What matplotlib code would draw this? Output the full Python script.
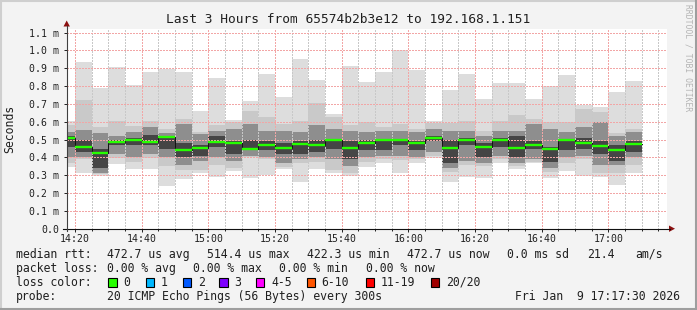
import numpy as np
import pandas as pd
import matplotlib
matplotlib.use('Agg')
import matplotlib.pyplot as plt
import matplotlib.dates as mdates
from matplotlib.patches import Rectangle, Polygon

plt.rcParams['font.family'] = 'DejaVu Sans Mono'

# one round of 20 pings every 5 minutes, values in ms (round ends at stamp + 5 min)
rounds = pd.date_range('2026-01-09 14:15', periods=35, freq='5min')

ping_max = [0.607, 0.933, 0.790, 0.910, 0.809, 0.882, 0.897, 0.882, 0.663, 0.848,
            0.610, 0.719, 0.869, 0.740, 0.953, 0.835, 0.644, 0.914, 0.824, 0.880,
            1.004, 0.891, 0.603, 0.779, 0.869, 0.728, 0.820, 0.820, 0.728, 0.801,
            0.863, 0.693, 0.682, 0.768, 0.830]
ping_hi2 = [0.580, 0.723, 0.573, 0.607, 0.577, 0.607, 0.560, 0.614, 0.545, 0.582,
            0.596, 0.663, 0.625, 0.588, 0.607, 0.704, 0.624, 0.582, 0.599, 0.573,
            0.588, 0.560, 0.592, 0.592, 0.607, 0.550, 0.607, 0.639, 0.614, 0.601,
            0.597, 0.670, 0.657, 0.536, 0.560]
ping_hi4 = [0.540, 0.554, 0.535, 0.520, 0.545, 0.570, 0.535, 0.590, 0.530, 0.550,
            0.560, 0.590, 0.550, 0.550, 0.540, 0.580, 0.560, 0.550, 0.540, 0.550,
            0.550, 0.540, 0.560, 0.550, 0.550, 0.520, 0.550, 0.550, 0.590, 0.560,
            0.540, 0.570, 0.600, 0.520, 0.540]
ping_hi5 = [0.520, 0.500, 0.450, 0.500, 0.510, 0.526, 0.520, 0.480, 0.470, 0.520,
            0.490, 0.500, 0.490, 0.480, 0.490, 0.500, 0.500, 0.490, 0.500, 0.500,
            0.500, 0.490, 0.520, 0.500, 0.510, 0.480, 0.510, 0.520, 0.490, 0.460,
            0.500, 0.510, 0.490, 0.470, 0.490]
median = [0.511, 0.461, 0.422, 0.487, 0.496, 0.489, 0.514, 0.444, 0.455, 0.489,
          0.483, 0.449, 0.472, 0.451, 0.478, 0.472, 0.496, 0.451, 0.483, 0.496,
          0.496, 0.483, 0.511, 0.455, 0.500, 0.461, 0.500, 0.455, 0.472, 0.449,
          0.496, 0.483, 0.464, 0.444, 0.473]
ping_lo5 = [0.460, 0.430, 0.340, 0.470, 0.470, 0.470, 0.450, 0.400, 0.410, 0.460,
            0.420, 0.440, 0.440, 0.420, 0.420, 0.430, 0.450, 0.390, 0.440, 0.440,
            0.470, 0.440, 0.490, 0.370, 0.470, 0.400, 0.460, 0.400, 0.450, 0.375,
            0.440, 0.450, 0.420, 0.380, 0.430]
ping_lo4 = [0.400, 0.400, 0.315, 0.420, 0.400, 0.420, 0.400, 0.360, 0.380, 0.400,
            0.380, 0.410, 0.400, 0.370, 0.390, 0.400, 0.390, 0.350, 0.400, 0.410,
            0.410, 0.400, 0.430, 0.340, 0.380, 0.370, 0.410, 0.370, 0.390, 0.340,
            0.400, 0.410, 0.360, 0.360, 0.400]
ping_lo2 = [0.370, 0.390, 0.305, 0.395, 0.376, 0.395, 0.350, 0.330, 0.330, 0.360,
            0.340, 0.400, 0.390, 0.345, 0.370, 0.375, 0.330, 0.310, 0.375, 0.390,
            0.385, 0.390, 0.410, 0.320, 0.360, 0.350, 0.390, 0.350, 0.375, 0.320,
            0.370, 0.390, 0.310, 0.310, 0.360]
ping_min = [0.345, 0.315, 0.298, 0.363, 0.337, 0.337, 0.242, 0.277, 0.315, 0.288,
            0.326, 0.287, 0.301, 0.337, 0.262, 0.333, 0.311, 0.298, 0.348, 0.367,
            0.315, 0.371, 0.399, 0.264, 0.292, 0.287, 0.371, 0.333, 0.371, 0.287,
            0.326, 0.298, 0.292, 0.247, 0.315]

y_ticks = [0.0, 0.1, 0.2, 0.3, 0.4, 0.5, 0.6, 0.7, 0.8, 0.9, 1.0, 1.1]
loss_labels = ['0', '1', '2', '3', '4-5', '6-10', '11-19', '20/20']
loss_colors = ['#26ff00', '#00b8ff', '#0059ff', '#7e00ff', '#ff00ff', '#ff5500', '#ff0000', '#a00000']

title = 'Last 3 Hours from 65574b2b3e12 to 192.168.1.151'
t_start = pd.Timestamp('2026-01-09 14:17:30')
t_end = pd.Timestamp('2026-01-09 17:17:30')

W, H = 697, 310
fig = plt.figure(figsize=(W / 100, H / 100), dpi=100, facecolor='#f3f3f3')

# graph canvas 600 x 200 px
ax = fig.add_axes([66.7 / W, (H - 228.7) / H, 600 / W, 200 / H])
ax.set_facecolor('white')

x = mdates.date2num(rounds)
w = 5 / 1440.0

smoke = [(ping_min, ping_max, '#dddddd'),
         (ping_lo2, ping_hi2, '#c9c9c9'),
         (ping_lo4, ping_hi4, '#8e8e8e'),
         (ping_lo5, ping_hi5, '#454545')]
for lo, hi, col in smoke:
    lo = np.array(lo)
    hi = np.array(hi)
    ax.bar(x, hi - lo, bottom=lo, width=w, align='edge', color=col, linewidth=0, zorder=1)

med = np.array(median)
ax.step(np.r_[x, x[-1] + w], np.r_[med, med[-1]], where='post', color='#101010', lw=0.7, zorder=3)
ax.hlines(med, x, x + w, color=loss_colors[0], lw=1.7, zorder=4)

ax.set_xlim(mdates.date2num(t_start), mdates.date2num(t_end))
ax.set_ylim(0, 1.1223)

ax.xaxis.set_major_locator(mdates.MinuteLocator(byminute=[0, 20, 40]))
ax.xaxis.set_minor_locator(mdates.MinuteLocator(byminute=range(0, 60, 5)))
ax.xaxis.set_major_formatter(mdates.DateFormatter('%H:%M'))
ax.set_yticks(y_ticks)
ax.set_yticklabels(['0.0' if v == 0 else '%.1f m' % v for v in y_ticks])

dots = (0, (1, 1))
ax.set_axisbelow(False)
ax.grid(which='minor', axis='x', color='#c8c8c8', ls=dots, lw=0.75, antialiased=False)
ax.grid(which='major', axis='x', color='#f2a6a6', ls=dots, lw=0.75, antialiased=False)
ax.grid(which='major', axis='y', color='#f2a6a6', ls=dots, lw=0.75, antialiased=False)

for s in ax.spines.values():
    s.set_visible(False)
ax.tick_params(axis='both', which='major', direction='out', length=2, width=0.7,
               color='#202020', labelsize=7.1, labelcolor='#202020')
ax.tick_params(axis='x', which='minor', direction='out', length=1.2, width=0.7, color='#202020')
ax.tick_params(axis='y', pad=3.4)
ax.tick_params(axis='x', pad=1.6)
ax.set_ylabel('Seconds', fontsize=8.3, color='#202020')
ax.yaxis.set_label_coords((16 - 66.7) / 600, 0.5)

# overlay in pixel coordinates for frame, arrows and legend
ov = fig.add_axes([0, 0, 1, 1], zorder=5)
ov.set_xlim(0, W)
ov.set_ylim(H, 0)
ov.axis('off')
ov.patch.set_alpha(0)

ov.plot([0, W], [1, 1], color='#cfcfcf', lw=1.5)
ov.plot([1, 1], [0, H], color='#cfcfcf', lw=1.5)
ov.plot([0, W], [H - 1, H - 1], color='#9e9e9e', lw=1.5)
ov.plot([W - 1, W - 1], [0, H], color='#9e9e9e', lw=1.5)

ov.plot([63, 670], [228.7, 228.7], color='#101010', lw=0.8)
ov.plot([66.7, 66.7], [231, 26], color='#404040', lw=0.8)
ov.add_patch(Polygon([[669, 225.5], [675, 228.7], [669, 231.9]], closed=True,
                     color='#8b1010', lw=0))
ov.add_patch(Polygon([[63.5, 26.5], [66.7, 20.5], [69.9, 26.5]], closed=True,
                     color='#8b1010', lw=0))

ov.text(348, 19.3, title, ha='center', va='center', fontsize=9.3, color='#202020')
ov.text(688, 4, 'RRDTOOL / TOBI OETIKER', rotation=270, ha='center', va='top',
        fontsize=5.8, color='#b4b4b4')

fs = 8.3
tc = '#202020'
ov.text(16, 254.3, 'median rtt:', va='center', fontsize=fs, color=tc)
for xp, s in [(107, '472.7 us avg'), (207.3, '514.4 us max'), (307.3, '422.3 us min'),
              (407.3, '472.7 us now'), (506.7, '0.0 ms sd'), (586.7, '21.4'), (635, 'am/s')]:
    ov.text(xp, 254.3, s, va='center', fontsize=fs, color=tc)

ov.text(16, 268.3, 'packet loss:', va='center', fontsize=fs, color=tc)
for xp, s in [(107, '0.00 % avg'), (193.3, '0.00 % max'), (279.3, '0.00 % min'), (365.7, '0.00 % now')]:
    ov.text(xp, 268.3, s, va='center', fontsize=fs, color=tc)

ov.text(16, 282.3, 'loss color:', va='center', fontsize=fs, color=tc)
box_x = [108.3, 145.7, 182.7, 219.3, 256, 306.7, 365.7, 430.7]
for bx, lab, col in zip(box_x, loss_labels, loss_colors):
    ov.add_patch(Rectangle((bx, 278.3), 8.3, 8.3, facecolor=col, edgecolor='black', lw=0.8))
    ov.text(bx + 15, 282.3, lab, va='center', fontsize=fs, color=tc)

ov.text(16, 296.3, 'probe:', va='center', fontsize=fs, color=tc)
ov.text(107, 296.3, '20 ICMP Echo Pings (56 Bytes) every 300s', va='center', fontsize=fs, color=tc)
ov.text(680, 296.3, 'Fri Jan  9 17:17:30 2026', va='center', ha='right', fontsize=fs, color=tc)

fig.savefig('out.png', dpi=100, facecolor=fig.get_facecolor())
